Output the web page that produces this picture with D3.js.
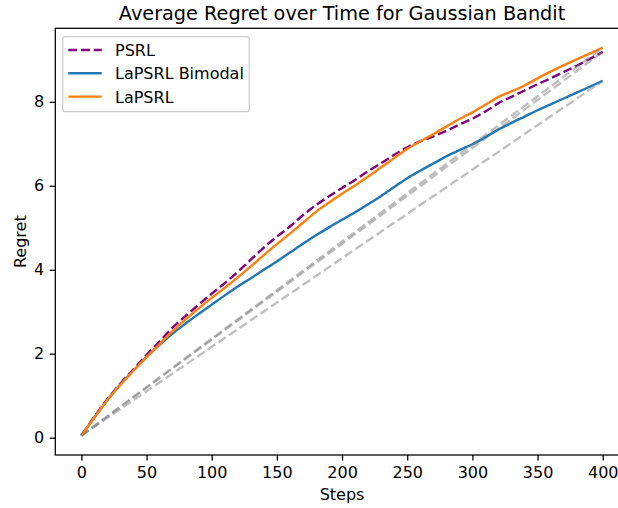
<!DOCTYPE html>
<html>
<head>
<meta charset="utf-8">
<script src="https://cdn.jsdelivr.net/npm/d3@7"></script>
<style>
  body { margin: 0; background: #fff; }
  svg { display: block; overflow: hidden; }
  text { font-family: "DejaVu Sans", sans-serif; fill: #000; }
</style>
</head>
<body>
<div id="chart"></div>
<script>
// regret curves, one value every 10 steps
var steps = d3.range(0, 401, 10);
var psrl = [0.05, 0.50, 0.92, 1.29, 1.63, 1.97, 2.29, 2.62, 2.90, 3.17,
  3.43, 3.68, 3.95, 4.24, 4.53, 4.79, 5.03, 5.30, 5.54, 5.75,
  5.95, 6.14, 6.35, 6.54, 6.74, 6.92, 7.06, 7.18, 7.31, 7.46,
  7.60, 7.77, 7.97, 8.12, 8.27, 8.42, 8.56, 8.71, 8.86, 9.02, 9.19];
var lapsrlBimodal = [0.05, 0.48, 0.90, 1.27, 1.60, 1.92, 2.21, 2.48, 2.72, 2.95,
  3.17, 3.39, 3.60, 3.80, 4.00, 4.20, 4.41, 4.62, 4.82, 5.01,
  5.19, 5.37, 5.56, 5.76, 5.97, 6.18, 6.36, 6.53, 6.70, 6.85,
  6.99, 7.16, 7.34, 7.50, 7.65, 7.80, 7.94, 8.08, 8.22, 8.36, 8.50];
var lapsrl = [0.05, 0.48, 0.90, 1.26, 1.60, 1.92, 2.23, 2.54, 2.82, 3.08,
  3.33, 3.57, 3.82, 4.08, 4.35, 4.61, 4.86, 5.12, 5.38, 5.60,
  5.81, 6.01, 6.22, 6.44, 6.66, 6.88, 7.06, 7.23, 7.41, 7.59,
  7.75, 7.93, 8.12, 8.25, 8.39, 8.56, 8.72, 8.87, 9.01, 9.15, 9.29];

var seriesNames = ["PSRL", "LaPSRL Bimodal", "LaPSRL"];
var seriesColors = ["purple", "#1f77b4", "#ff7f0e"];
var seriesDash = ["8.9,3.85", null, null];
var xTicks = [0, 50, 100, 150, 200, 250, 300, 350, 400];
var yTicks = [0, 2, 4, 6, 8];

var width = 618, height = 508,
    margin = {top: 28.3, left: 55.3, right: 628.8, bottom: 455},
    fontSize = 16, lw = 2.4;

var allSeries = [psrl, lapsrlBimodal, lapsrl];

var svg = d3.select("#chart").append("svg")
    .attr("width", width).attr("height", height);

// matplotlib style 5% padding around the data
var xMin = d3.min(steps), xMax = d3.max(steps),
    yMin = d3.min(allSeries, s => d3.min(s)), yMax = d3.max(allSeries, s => d3.max(s));
var xPad = (xMax - xMin) * 0.05, yPad = (yMax - yMin) * 0.05;

var xScale = d3.scaleLinear().domain([xMin - xPad, xMax + xPad]).range([margin.left, margin.right]);
var yScale = d3.scaleLinear().domain([yMin - yPad, yMax + yPad]).range([margin.bottom, margin.top]);

var curve = d3.line().x(d => xScale(d[0])).y(d => yScale(d[1])).curve(d3.curveMonotoneX);
var line = d3.line().x(d => xScale(d[0])).y(d => yScale(d[1]));

// each curve followed by its gray straight reference line
allSeries.forEach(function(s, i){
  svg.append("path")
    .datum(steps.map((x, j) => [x, s[j]]))
    .attr("d", curve)
    .attr("fill", "none")
    .attr("stroke", seriesColors[i])
    .attr("stroke-width", lw)
    .attr("stroke-dasharray", seriesDash[i])
    .attr("stroke-linejoin", "round");
  svg.append("path")
    .datum([[xMin, s[0]], [xMax, s[s.length - 1]]])
    .attr("d", line)
    .attr("fill", "none")
    .attr("stroke", "gray")
    .attr("stroke-opacity", 0.5)
    .attr("stroke-width", lw)
    .attr("stroke-dasharray", "8.9,3.85");
});

// axes
var xAxis = d3.axisBottom(xScale).tickValues(xTicks).tickSize(5.6).tickPadding(5.6).tickSizeOuter(0);
var yAxis = d3.axisLeft(yScale).tickValues(yTicks).tickSize(5.6).tickPadding(5.6).tickSizeOuter(0);

var gx = svg.append("g").attr("transform", "translate(0," + margin.bottom + ")").call(xAxis);
var gy = svg.append("g").attr("transform", "translate(" + margin.left + ",0)").call(yAxis);
[gx, gy].forEach(function(g){
  g.select(".domain").remove();
  g.selectAll("line").attr("stroke", "#000").attr("stroke-width", 1.28);
  g.selectAll("text").attr("font-size", fontSize).attr("font-family", "DejaVu Sans");
});

svg.append("rect")
  .attr("x", margin.left).attr("y", margin.top)
  .attr("width", margin.right - margin.left).attr("height", margin.bottom - margin.top)
  .attr("fill", "none").attr("stroke", "#000").attr("stroke-width", 1.28);

// labels
var cx = (margin.left + margin.right) / 2;
svg.append("text").attr("x", cx).attr("y", 19.5)
  .attr("text-anchor", "middle").attr("font-size", 19.25)
  .text("Average Regret over Time for Gaussian Bandit");
svg.append("text").attr("x", cx).attr("y", 500)
  .attr("text-anchor", "middle").attr("font-size", fontSize)
  .text("Steps");
svg.append("text")
  .attr("transform", "translate(26," + (margin.top + margin.bottom) / 2 + ") rotate(-90)")
  .attr("text-anchor", "middle").attr("font-size", fontSize)
  .text("Regret");

// legend
var leg = svg.append("g");
leg.append("rect")
  .attr("x", 62.7).attr("y", 36.7).attr("width", 186.6).attr("height", 75)
  .attr("rx", 3)
  .attr("fill", "#fff").attr("fill-opacity", 0.8)
  .attr("stroke", "#ccc").attr("stroke-width", 1.28);
seriesNames.forEach(function(name, i){
  var yy = 50 + i * 23.3;
  leg.append("line")
    .attr("x1", 68.3).attr("x2", 101.7).attr("y1", yy).attr("y2", yy)
    .attr("stroke", seriesColors[i]).attr("stroke-width", lw)
    .attr("stroke-dasharray", seriesDash[i]);
  leg.append("text").attr("x", 115).attr("y", yy + 6)
    .attr("font-size", fontSize).text(name);
});
</script>
</body>
</html>
